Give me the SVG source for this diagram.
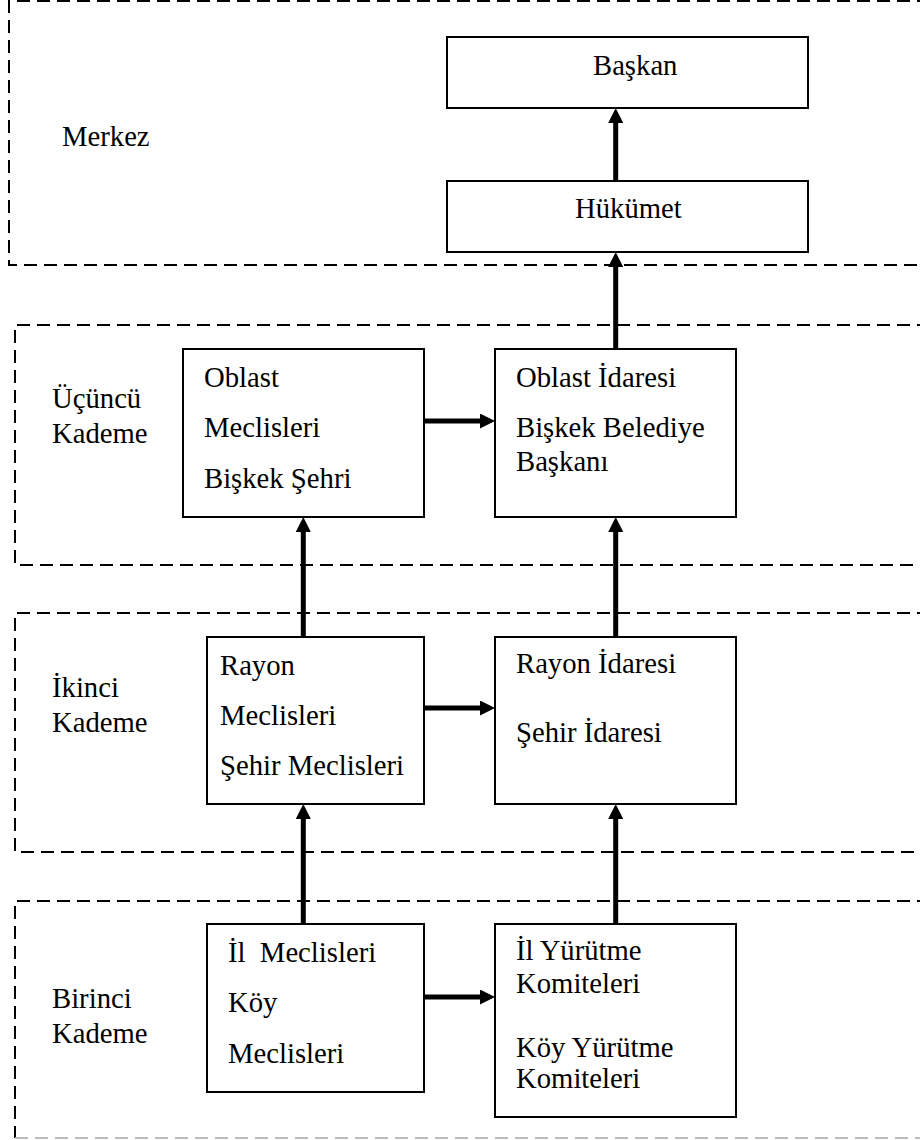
<svg xmlns="http://www.w3.org/2000/svg" width="920" height="1140" viewBox="0 0 920 1140">
<style>
.frame{fill:none;stroke:#000;stroke-width:2;stroke-dasharray:13 7}
.box{fill:#fff;stroke:#000;stroke-width:2}
.conn{stroke:#000;stroke-width:5;fill:none;marker-end:url(#ah)}
text{font-family:'Liberation Serif','Times New Roman','DejaVu Serif',serif;font-size:28.7px;fill:#000}
</style>
<defs>
<marker id="ah" markerUnits="userSpaceOnUse" markerWidth="15" markerHeight="15" refX="3" refY="7.5" orient="auto">
<path d="M0,0 L15,7.5 L0,15 z" fill="#000"/>
</marker>
</defs>
<rect width="920" height="1140" fill="#fff"/>
<g id="tiers">
<g id="tier-merkez">
<path class="frame" d="M930,1 H9 V265 H930"/>
<text x="62" y="146">Merkez</text>
</g>
<g id="tier-ucuncu">
<path class="frame" d="M930,325 H15 V565 H930"/>
<text x="52" y="408">Üçüncü</text>
<text x="52" y="443">Kademe</text>
</g>
<g id="tier-ikinci">
<path class="frame" d="M930,613 H15 V852 H930"/>
<text x="52" y="697">İkinci</text>
<text x="52" y="732">Kademe</text>
</g>
<g id="tier-birinci">
<path class="frame" d="M930,901 H15 V1138"/>
<path class="frame" d="M15,1138 H930" style="stroke:#bbb"/>
<text x="52" y="1008">Birinci</text>
<text x="52" y="1043">Kademe</text>
</g>
</g>
<g id="baskan">
<rect class="box" x="447" y="37" width="361" height="71"/>
<text x="593" y="75">Başkan</text>
</g>
<g id="hukumet">
<rect class="box" x="447" y="181" width="361" height="71"/>
<text x="575" y="218">Hükümet</text>
</g>
<g id="oblast-meclisleri">
<rect class="box" x="183" y="349" width="241" height="168"/>
<text x="204" y="387">Oblast</text>
<text x="204" y="437">Meclisleri</text>
<text x="204" y="488">Bişkek Şehri</text>
</g>
<g id="oblast-idaresi">
<rect class="box" x="495" y="349" width="241" height="168"/>
<text x="516" y="387">Oblast İdaresi</text>
<text x="516" y="437">Bişkek Belediye</text>
<text x="516" y="471">Başkanı</text>
</g>
<g id="rayon-meclisleri">
<rect class="box" x="207" y="637" width="217" height="167"/>
<text x="220" y="675">Rayon</text>
<text x="220" y="725">Meclisleri</text>
<text x="220" y="775">Şehir Meclisleri</text>
</g>
<g id="rayon-idaresi">
<rect class="box" x="495" y="637" width="241" height="167"/>
<text x="516" y="673">Rayon İdaresi</text>
<text x="516" y="742">Şehir İdaresi</text>
</g>
<g id="il-meclisleri">
<rect class="box" x="207" y="924" width="217" height="168"/>
<text x="228" y="962" xml:space="preserve">İl  Meclisleri</text>
<text x="228" y="1012">Köy</text>
<text x="228" y="1063">Meclisleri</text>
</g>
<g id="il-yurutme">
<rect class="box" x="495" y="924" width="241" height="193"/>
<text x="516" y="960">İl Yürütme</text>
<text x="516" y="993">Komiteleri</text>
<text x="516" y="1057">Köy Yürütme</text>
<text x="516" y="1088">Komiteleri</text>
</g>
<g id="connectors">
<line class="conn" x1="615.7" y1="181" x2="615.7" y2="120"/>
<line class="conn" x1="615.7" y1="349" x2="615.7" y2="264"/>
<line class="conn" x1="424" y1="421" x2="483" y2="421"/>
<line class="conn" x1="303.3" y1="637" x2="303.3" y2="529"/>
<line class="conn" x1="615.7" y1="637" x2="615.7" y2="529"/>
<line class="conn" x1="424" y1="708" x2="483" y2="708"/>
<line class="conn" x1="303.3" y1="924" x2="303.3" y2="816"/>
<line class="conn" x1="615.7" y1="924" x2="615.7" y2="816"/>
<line class="conn" x1="424" y1="997" x2="483" y2="997"/>
</g>
</svg>
